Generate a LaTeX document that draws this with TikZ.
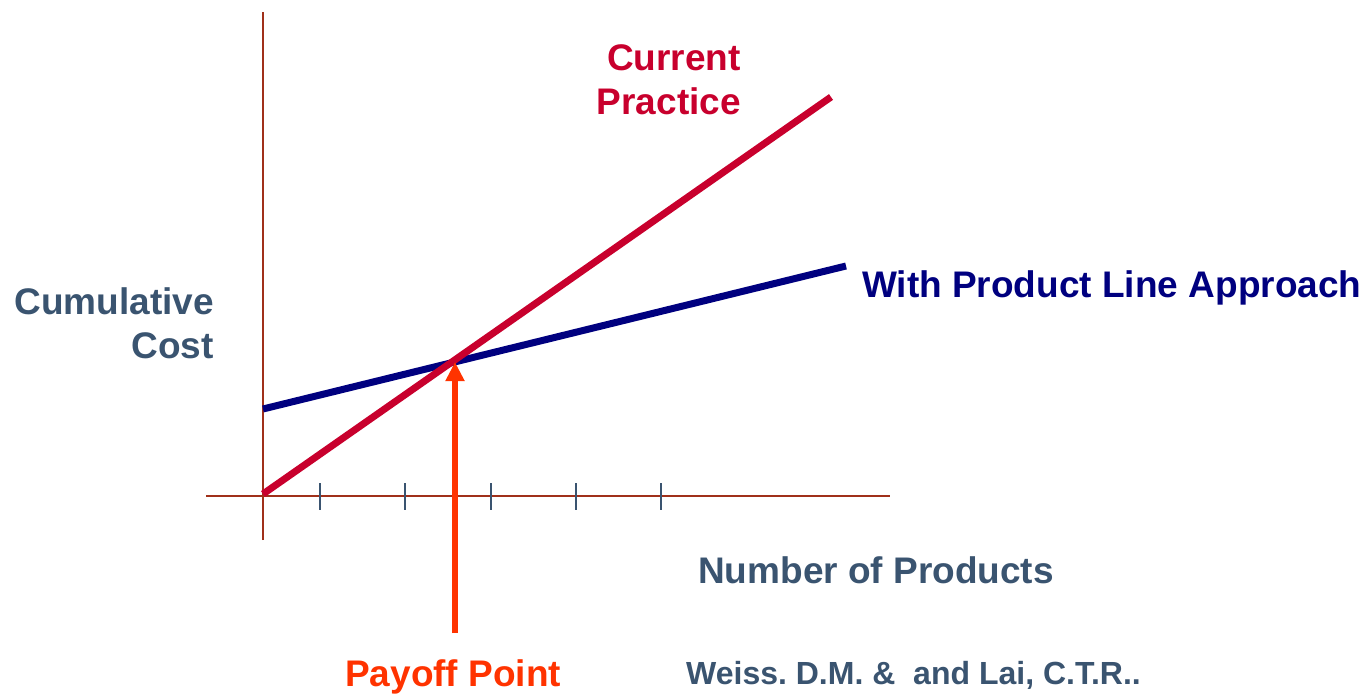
\documentclass[tikz,border=0pt]{standalone}
\usepackage{fontspec}
\setmainfont{Liberation Sans}
\frenchspacing
\usetikzlibrary{arrows.meta}
\definecolor{axisred}{HTML}{A0301A}
\definecolor{curred}{HTML}{C8002D}
\definecolor{plnavy}{HTML}{00007F}
\definecolor{slate}{HTML}{3A5470}
\definecolor{payoff}{HTML}{FF3300}
\tikzset{
  axisline/.style={draw=axisred, line width=1.5pt},
  tickmark/.style={draw=slate, line width=2pt},
  costline/.style={line width=7pt},
  lbl/.style={inner sep=0pt, font=\bfseries\fontsize{37}{44}\selectfont},
  smalllbl/.style={inner sep=0pt, font=\bfseries\fontsize{32}{38}\selectfont},
}
\begin{document}
\begin{tikzpicture}[x=1pt,y=-1pt]
\useasboundingbox (0,0) rectangle (1372,695);
% axes
\coordinate (yTop) at (263,12);
\coordinate (yBot) at (263,540);
\coordinate (xL) at (206,496);
\coordinate (xR) at (890,496);
\draw[axisline] (yBot) -- (yTop);
\draw[axisline] (xL) -- (xR);
% ticks
\foreach \i/\x in {1/320,2/405,3/491,4/576,5/661}{
  \coordinate (t\i a) at (\x,483);
  \coordinate (t\i b) at (\x,510);
  \draw[tickmark] (t\i a) -- (t\i b);
}
% lines
\coordinate (cpStart) at (263,494);
\coordinate (cpEnd) at (831,97);
\coordinate (plStart) at (263,409);
\coordinate (plEnd) at (846,266);
\draw[costline, draw=plnavy] (plStart) -- (plEnd);
\draw[costline, draw=curred] (cpStart) -- (cpEnd);
% payoff arrow
\coordinate (payTip) at (455,362);
\coordinate (payBase) at (455,633);
\draw[draw=payoff, line width=6pt, -{Triangle[width=18pt,length=19pt]}] (payBase) -- (payTip);
% labels
\node[lbl, text=curred, align=right, anchor=base east] (cp) at (741,115) {Current\\Practice};
\node[lbl, text=plnavy, anchor=base west] (pl) at (862,297) {With Product Line Approach};
\node[lbl, text=slate, align=right, anchor=base east] (cc) at (214,358) {Cumulative\\Cost};
\node[lbl, text=slate, anchor=base west] (np) at (698,583) {Number of Products};
\node[lbl, text=payoff, anchor=base west] (pp) at (345,686) {Payoff Point};
\node[smalllbl, text=slate, anchor=base west] (ref) at (686,684) {Weiss. D.M. \&\ \ and Lai, C.T.R..};
\end{tikzpicture}
\end{document}
